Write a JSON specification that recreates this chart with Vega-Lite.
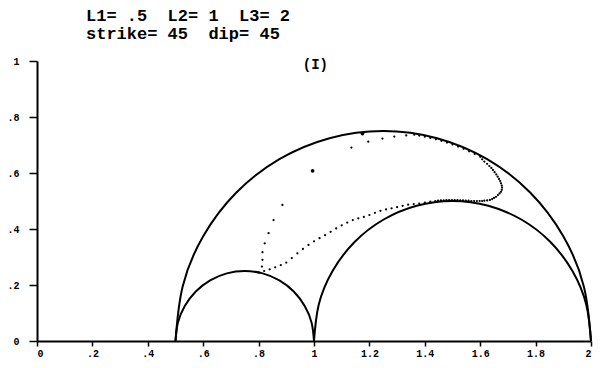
{
  "$schema": "https://vega.github.io/schema/vega-lite/v6.json",
  "autosize": {"type": "none"},
  "padding": {"left": 37, "top": 61, "right": 10, "bottom": 27},
  "width": 554,
  "height": 280,
  "background": "white",
  "title": {
    "text": ["L1= .5\u00a0 L2= 1\u00a0 L3= 2", "strike= 45\u00a0 dip= 45"],
    "anchor": "start",
    "frame": "group",
    "dx": 49,
    "offset": 13,
    "font": "Liberation Mono",
    "fontSize": 17,
    "fontWeight": "bold",
    "lineHeight": 18,
    "color": "black"
  },
  "config": {
    "view": {"stroke": null},
    "axis": {
      "grid": false,
      "title": null,
      "domainColor": "black",
      "domainWidth": 2,
      "tickColor": "black",
      "tickWidth": 1.5,
      "labelFont": "Liberation Mono",
      "labelFontSize": 10,
      "labelFontWeight": "bold",
      "labelColor": "black",
      "labelExpr": "datum.value > 0 && datum.value < 1 ? '.' + format(datum.value * 10, 'd') : format(datum.value, '~g')"
    }
  },
  "datasets": {
    "circles": [
      {"c": "L1-L2", "i": 0, "x": 1.0, "y": 0},
      {"c": "L1-L2", "i": 1, "x": 0.9915, "y": 0.0647},
      {"c": "L1-L2", "i": 2, "x": 0.9665, "y": 0.125},
      {"c": "L1-L2", "i": 3, "x": 0.9268, "y": 0.1768},
      {"c": "L1-L2", "i": 4, "x": 0.875, "y": 0.2165},
      {"c": "L1-L2", "i": 5, "x": 0.8147, "y": 0.2415},
      {"c": "L1-L2", "i": 6, "x": 0.75, "y": 0.25},
      {"c": "L1-L2", "i": 7, "x": 0.6853, "y": 0.2415},
      {"c": "L1-L2", "i": 8, "x": 0.625, "y": 0.2165},
      {"c": "L1-L2", "i": 9, "x": 0.5732, "y": 0.1768},
      {"c": "L1-L2", "i": 10, "x": 0.5335, "y": 0.125},
      {"c": "L1-L2", "i": 11, "x": 0.5085, "y": 0.0647},
      {"c": "L1-L2", "i": 12, "x": 0.5, "y": 0},
      {"c": "L2-L3", "i": 0, "x": 2.0, "y": 0},
      {"c": "L2-L3", "i": 1, "x": 1.983, "y": 0.1294},
      {"c": "L2-L3", "i": 2, "x": 1.933, "y": 0.25},
      {"c": "L2-L3", "i": 3, "x": 1.8536, "y": 0.3536},
      {"c": "L2-L3", "i": 4, "x": 1.75, "y": 0.433},
      {"c": "L2-L3", "i": 5, "x": 1.6294, "y": 0.483},
      {"c": "L2-L3", "i": 6, "x": 1.5, "y": 0.5},
      {"c": "L2-L3", "i": 7, "x": 1.3706, "y": 0.483},
      {"c": "L2-L3", "i": 8, "x": 1.25, "y": 0.433},
      {"c": "L2-L3", "i": 9, "x": 1.1464, "y": 0.3536},
      {"c": "L2-L3", "i": 10, "x": 1.067, "y": 0.25},
      {"c": "L2-L3", "i": 11, "x": 1.017, "y": 0.1294},
      {"c": "L2-L3", "i": 12, "x": 1.0, "y": 0},
      {"c": "L1-L3", "i": 0, "x": 2.0, "y": 0},
      {"c": "L1-L3", "i": 1, "x": 1.9744, "y": 0.1941},
      {"c": "L1-L3", "i": 2, "x": 1.8995, "y": 0.375},
      {"c": "L1-L3", "i": 3, "x": 1.7803, "y": 0.5303},
      {"c": "L1-L3", "i": 4, "x": 1.625, "y": 0.6495},
      {"c": "L1-L3", "i": 5, "x": 1.4441, "y": 0.7244},
      {"c": "L1-L3", "i": 6, "x": 1.25, "y": 0.75},
      {"c": "L1-L3", "i": 7, "x": 1.0559, "y": 0.7244},
      {"c": "L1-L3", "i": 8, "x": 0.875, "y": 0.6495},
      {"c": "L1-L3", "i": 9, "x": 0.7197, "y": 0.5303},
      {"c": "L1-L3", "i": 10, "x": 0.6005, "y": 0.375},
      {"c": "L1-L3", "i": 11, "x": 0.5256, "y": 0.1941},
      {"c": "L1-L3", "i": 12, "x": 0.5, "y": 0}
    ],
    "trace": [
      {"x": 0.800, "y": 0.245}, {"x": 0.812, "y": 0.266}, {"x": 0.814, "y": 0.290},
      {"x": 0.814, "y": 0.317}, {"x": 0.822, "y": 0.349}, {"x": 0.836, "y": 0.385},
      {"x": 0.854, "y": 0.432}, {"x": 0.886, "y": 0.486},
      {"x": 1.135, "y": 0.691}, {"x": 1.196, "y": 0.712}, {"x": 1.247, "y": 0.723},
      {"x": 1.290, "y": 0.730}, {"x": 1.333, "y": 0.734}, {"x": 1.362, "y": 0.737},
      {"x": 1.380, "y": 0.7336}, {"x": 1.400, "y": 0.7297}, {"x": 1.420, "y": 0.7253},
      {"x": 1.440, "y": 0.7204}, {"x": 1.460, "y": 0.7148}, {"x": 1.480, "y": 0.7086},
      {"x": 1.500, "y": 0.7018}, {"x": 1.520, "y": 0.6943}, {"x": 1.540, "y": 0.6862},
      {"x": 1.560, "y": 0.6774}, {"x": 1.580, "y": 0.6679}, {"x": 1.600, "y": 0.6576},
      {"x": 1.607, "y": 0.649}, {"x": 1.615, "y": 0.641}, {"x": 1.625, "y": 0.633},
      {"x": 1.633, "y": 0.625}, {"x": 1.640, "y": 0.618}, {"x": 1.646, "y": 0.611},
      {"x": 1.652, "y": 0.603}, {"x": 1.658, "y": 0.595}, {"x": 1.663, "y": 0.587},
      {"x": 1.668, "y": 0.579}, {"x": 1.672, "y": 0.571}, {"x": 1.675, "y": 0.563},
      {"x": 1.678, "y": 0.555}, {"x": 1.679, "y": 0.548}, {"x": 1.678, "y": 0.540},
      {"x": 1.675, "y": 0.533}, {"x": 1.670, "y": 0.527}, {"x": 1.664, "y": 0.521},
      {"x": 1.657, "y": 0.515}, {"x": 1.650, "y": 0.511}, {"x": 1.643, "y": 0.507},
      {"x": 1.635, "y": 0.504}, {"x": 1.625, "y": 0.502}, {"x": 1.615, "y": 0.501},
      {"x": 1.607, "y": 0.500}, {"x": 1.598, "y": 0.500}, {"x": 1.588, "y": 0.500},
      {"x": 1.578, "y": 0.500}, {"x": 1.568, "y": 0.500}, {"x": 1.558, "y": 0.501},
      {"x": 1.548, "y": 0.501}, {"x": 1.538, "y": 0.502}, {"x": 1.528, "y": 0.502},
      {"x": 1.518, "y": 0.503}, {"x": 1.508, "y": 0.503}, {"x": 1.498, "y": 0.503},
      {"x": 1.488, "y": 0.503}, {"x": 1.478, "y": 0.503}, {"x": 1.468, "y": 0.502},
      {"x": 1.458, "y": 0.502}, {"x": 1.448, "y": 0.501}, {"x": 1.438, "y": 0.500},
      {"x": 1.420, "y": 0.498}, {"x": 1.400, "y": 0.494}, {"x": 1.380, "y": 0.491},
      {"x": 1.360, "y": 0.489}, {"x": 1.340, "y": 0.487}, {"x": 1.320, "y": 0.483},
      {"x": 1.300, "y": 0.478}, {"x": 1.280, "y": 0.474}, {"x": 1.260, "y": 0.470},
      {"x": 1.240, "y": 0.465}, {"x": 1.220, "y": 0.458}, {"x": 1.200, "y": 0.450},
      {"x": 1.180, "y": 0.443}, {"x": 1.160, "y": 0.438}, {"x": 1.140, "y": 0.432},
      {"x": 1.120, "y": 0.423}, {"x": 1.100, "y": 0.413}, {"x": 1.080, "y": 0.402},
      {"x": 1.060, "y": 0.390}, {"x": 1.040, "y": 0.378}, {"x": 1.020, "y": 0.367},
      {"x": 1.000, "y": 0.356}, {"x": 0.980, "y": 0.343}, {"x": 0.960, "y": 0.329},
      {"x": 0.940, "y": 0.313}, {"x": 0.920, "y": 0.296}, {"x": 0.900, "y": 0.280},
      {"x": 0.880, "y": 0.271}, {"x": 0.860, "y": 0.263}, {"x": 0.840, "y": 0.256},
      {"x": 0.820, "y": 0.250}
    ],
    "heavy": [
      {"x": 0.995, "y": 0.608},
      {"x": 1.175, "y": 0.741}
    ],
    "panel": [
      {"x": 1.005, "y": 0.985, "label": "(I)"}
    ]
  },
  "layer": [
    {
      "data": {"name": "circles"},
      "mark": {"type": "line", "interpolate": "natural", "color": "black", "strokeWidth": 2},
      "encoding": {
        "x": {
          "field": "x", "type": "quantitative",
          "scale": {"domain": [0, 2], "nice": false},
          "axis": {"values": [0, 0.2, 0.4, 0.6, 0.8, 1, 1.2, 1.4, 1.6, 1.8, 2], "tickSize": 5, "labelPadding": 2}
        },
        "y": {
          "field": "y", "type": "quantitative",
          "scale": {"domain": [0, 1], "nice": false},
          "axis": {"values": [0, 0.2, 0.4, 0.6, 0.8, 1], "tickSize": 8, "labelPadding": 10}
        },
        "detail": {"field": "c"},
        "order": {"field": "i"}
      }
    },
    {
      "data": {"name": "trace"},
      "mark": {"type": "circle", "color": "black", "size": 5, "opacity": 1},
      "encoding": {
        "x": {"field": "x", "type": "quantitative"},
        "y": {"field": "y", "type": "quantitative"}
      }
    },
    {
      "data": {"name": "heavy"},
      "mark": {"type": "circle", "color": "black", "size": 14, "opacity": 1},
      "encoding": {
        "x": {"field": "x", "type": "quantitative"},
        "y": {"field": "y", "type": "quantitative"}
      }
    },
    {
      "data": {"name": "panel"},
      "mark": {"type": "text", "font": "Liberation Mono", "fontSize": 14, "fontWeight": "bold", "color": "black"},
      "encoding": {
        "x": {"field": "x", "type": "quantitative"},
        "y": {"field": "y", "type": "quantitative"},
        "text": {"field": "label"}
      }
    }
  ]
}
